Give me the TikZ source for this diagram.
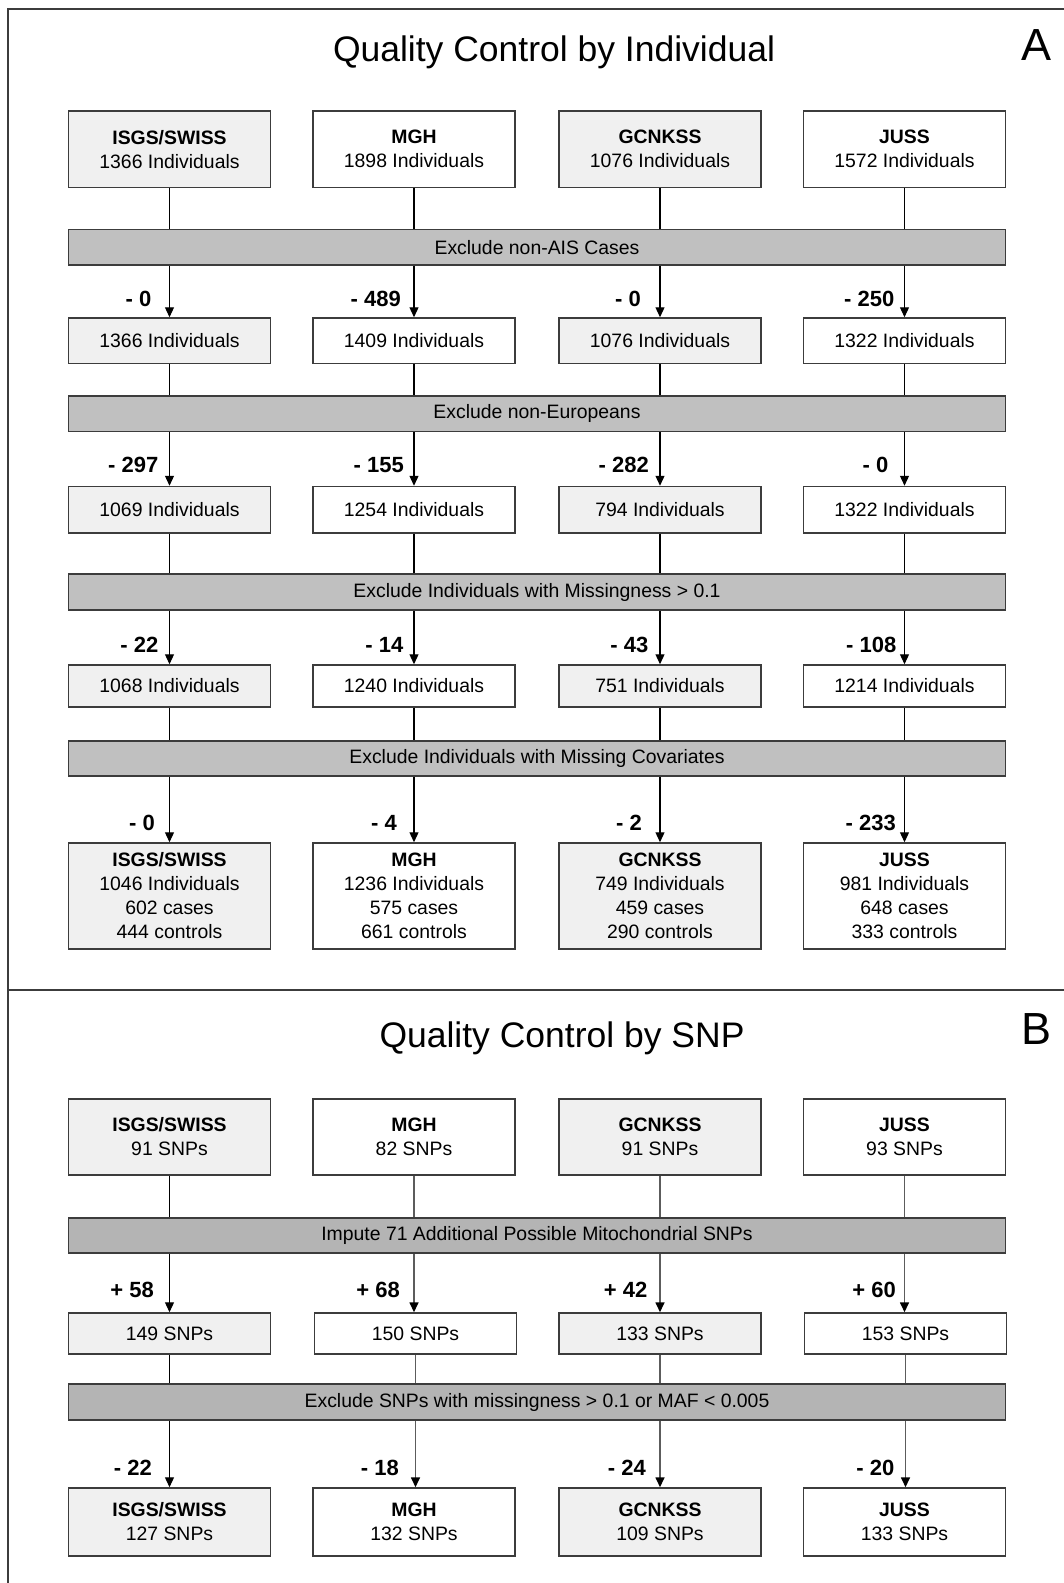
\documentclass[tikz,border=0pt]{standalone}
\usepackage{fontspec}
\setmainfont{Liberation Sans}
\usetikzlibrary{arrows.meta}
\definecolor{lite}{HTML}{F0F0F0}
\definecolor{barA}{HTML}{C0C0C0}
\definecolor{barB}{HTML}{B4B4B4}
\definecolor{edge}{HTML}{3C3C3C}
\definecolor{conB}{HTML}{5C5C5C}
\begin{document}
\begin{tikzpicture}[x=1pt,y=-1pt,
  box/.style={draw=edge,line width=1.5pt,minimum width=202pt,inner sep=0pt,align=center,font=\fontsize{19.4}{24}\selectfont},
  greybox/.style={box,fill=lite},
  whitebox/.style={box,fill=white},
  bar/.style={draw=edge,line width=1.5pt,fill=barA,minimum width=937pt,minimum height=35.5pt,inner sep=0pt,font=\fontsize{19.4}{24}\selectfont},
  barb/.style={bar,fill=barB},
  conn/.style={line width=1.2pt,draw=black},
  connB/.style={line width=1.6pt,draw=conB},
  tipA/.style={-{Triangle[width=9pt,length=10pt,color=black]}},
  lab/.style={anchor=east,inner sep=0pt,font=\bfseries\fontsize{22}{24}\selectfont},
  ttl/.style={inner sep=0pt,font=\fontsize{35.5}{40}\selectfont},
  letter/.style={inner sep=0pt,font=\fontsize{45}{50}\selectfont},
  frame/.style={draw=edge,line width=1.5pt}
]
\useasboundingbox (0,0) rectangle (1064,1583);
\fill[white] (0,0) rectangle (1064,1583);
% frame
\coordinate (ftl) at (8,9);
\coordinate (ftr) at (1064,9);
\coordinate (fbl) at (8,1583);
\coordinate (fdl) at (8,990);
\coordinate (fdr) at (1064,990);
\draw[frame] (fbl) -- (ftl) -- (ftr);
\draw[frame] (fdl) -- (fdr);
% titles
\node[ttl] (tA) at (554,52) {Quality Control by Individual};
\node[letter] (lA) at (1036,45) {A};
\node[ttl] (tB) at (562,1038) {Quality Control by SNP};
\node[letter] (lB) at (1036.5,1029) {B};
% ---------- Section A ----------
% row 1
\node[greybox,minimum height=76.5pt] (a11) at (169.5,149.25) {\textbf{ISGS/SWISS}\\1366 Individuals};
\node[whitebox,minimum height=76.5pt] (a12) at (414,149.25) {\textbf{MGH}\\1898 Individuals};
\node[greybox,minimum height=76.5pt] (a13) at (660,149.25) {\textbf{GCNKSS}\\1076 Individuals};
\node[whitebox,minimum height=76.5pt] (a14) at (904.5,149.25) {\textbf{JUSS}\\1572 Individuals};
\node[bar] (ba1) at (537,247.25) {Exclude non-AIS Cases};
% row 2
\node[greybox,minimum height=45.5pt] (a21) at (169.5,340.75) {1366 Individuals};
\node[whitebox,minimum height=45.5pt] (a22) at (414,340.75) {1409 Individuals};
\node[greybox,minimum height=45.5pt] (a23) at (660,340.75) {1076 Individuals};
\node[whitebox,minimum height=45.5pt] (a24) at (904.5,340.75) {1322 Individuals};
\node[bar] (ba2) at (537,413.5) {Exclude non-Europeans};
% row 3
\node[greybox,minimum height=46.5pt] (a31) at (169.5,509.75) {1069 Individuals};
\node[whitebox,minimum height=46.5pt] (a32) at (414,509.75) {1254 Individuals};
\node[greybox,minimum height=46.5pt] (a33) at (660,509.75) {794 Individuals};
\node[whitebox,minimum height=46.5pt] (a34) at (904.5,509.75) {1322 Individuals};
\node[bar,minimum height=36pt] (ba3) at (537,592) {Exclude Individuals with Missingness > 0.1};
% row 4
\node[greybox,minimum height=42pt] (a41) at (169.5,686) {1068 Individuals};
\node[whitebox,minimum height=42pt] (a42) at (414,686) {1240 Individuals};
\node[greybox,minimum height=42pt] (a43) at (660,686) {751 Individuals};
\node[whitebox,minimum height=42pt] (a44) at (904.5,686) {1214 Individuals};
\node[bar,minimum height=35pt] (ba4) at (537,758.5) {Exclude Individuals with Missing Covariates};
% row 5
\node[greybox,minimum height=106pt] (a51) at (169.5,896) {\textbf{ISGS/SWISS}\\1046 Individuals\\602 cases\\444 controls};
\node[whitebox,minimum height=106pt] (a52) at (414,896) {\textbf{MGH}\\1236 Individuals\\575 cases\\661 controls};
\node[greybox,minimum height=106pt] (a53) at (660,896) {\textbf{GCNKSS}\\749 Individuals\\459 cases\\290 controls};
\node[whitebox,minimum height=106pt] (a54) at (904.5,896) {\textbf{JUSS}\\981 Individuals\\648 cases\\333 controls};
% connectors A
\foreach \r/\b/\n in {1/1/2,2/2/3,3/3/4,4/4/5}{
  \foreach \c in {1,2,3,4}{
    \draw[conn] (a\r\c.south) -- (a\r\c.south |- ba\b.north);
    \draw[conn,tipA] (a\r\c.south |- ba\b.south) -- (a\n\c.north);
  }
}
% labels A
\node[lab] (la11) at (151.5,299) {- 0};
\node[lab] (la12) at (401,299) {- 489};
\node[lab] (la13) at (641,299) {- 0};
\node[lab] (la14) at (894.5,299) {- 250};
\node[lab] (la21) at (158.5,465) {- 297};
\node[lab] (la22) at (404,465) {- 155};
\node[lab] (la23) at (649,465) {- 282};
\node[lab] (la24) at (888.5,465) {- 0};
\node[lab] (la31) at (158.5,645) {- 22};
\node[lab] (la32) at (403.5,645) {- 14};
\node[lab] (la33) at (648.5,645) {- 43};
\node[lab] (la34) at (896.5,645) {- 108};
\node[lab] (la41) at (155,823) {- 0};
\node[lab] (la42) at (397,823) {- 4};
\node[lab] (la43) at (642,823) {- 2};
\node[lab] (la44) at (896,823) {- 233};
% ---------- Section B ----------
\node[greybox,minimum height=76pt] (b11) at (169.5,1137) {\textbf{ISGS/SWISS}\\91 SNPs};
\node[whitebox,minimum height=76pt] (b12) at (414,1137) {\textbf{MGH}\\82 SNPs};
\node[greybox,minimum height=76pt] (b13) at (660,1137) {\textbf{GCNKSS}\\91 SNPs};
\node[whitebox,minimum height=76pt] (b14) at (904.5,1137) {\textbf{JUSS}\\93 SNPs};
\node[barb,minimum height=35pt] (bb1) at (537,1235.5) {Impute 71 Additional Possible Mitochondrial SNPs};
\node[greybox,minimum height=41pt] (b21) at (169.5,1333.5) {149 SNPs};
\node[whitebox,minimum height=41pt] (b22) at (415.5,1333.5) {150 SNPs};
\node[greybox,minimum height=41pt] (b23) at (660,1333.5) {133 SNPs};
\node[whitebox,minimum height=41pt] (b24) at (905.5,1333.5) {153 SNPs};
\node[barb,minimum height=36pt] (bb2) at (537,1402) {Exclude SNPs with missingness > 0.1 or MAF < 0.005};
\node[greybox,minimum height=68pt] (b31) at (169.5,1522) {\textbf{ISGS/SWISS}\\127 SNPs};
\node[whitebox,minimum height=68pt] (b32) at (414,1522) {\textbf{MGH}\\132 SNPs};
\node[greybox,minimum height=68pt] (b33) at (660,1522) {\textbf{GCNKSS}\\109 SNPs};
\node[whitebox,minimum height=68pt] (b34) at (904.5,1522) {\textbf{JUSS}\\133 SNPs};
% connectors B
\foreach \r/\b/\n in {1/1/2,2/2/3}{
  \foreach \c/\s in {1/conn,2/connB,3/connB,4/connB}{
    \draw[\s] (b\r\c.south) -- (b\r\c.south |- bb\b.north);
    \draw[\s,tipA] (b\r\c.south |- bb\b.south) -- (b\r\c.south |- b\n\c.north);
  }
}
% labels B
\node[lab] (lb11) at (154,1290) {+ 58};
\node[lab] (lb12) at (400,1290) {+ 68};
\node[lab] (lb13) at (647.5,1290) {+ 42};
\node[lab] (lb14) at (896,1290) {+ 60};
\node[lab] (lb21) at (152,1468) {- 22};
\node[lab] (lb22) at (399,1468) {- 18};
\node[lab] (lb23) at (646,1468) {- 24};
\node[lab] (lb24) at (894.5,1468) {- 20};
\end{tikzpicture}
\end{document}
